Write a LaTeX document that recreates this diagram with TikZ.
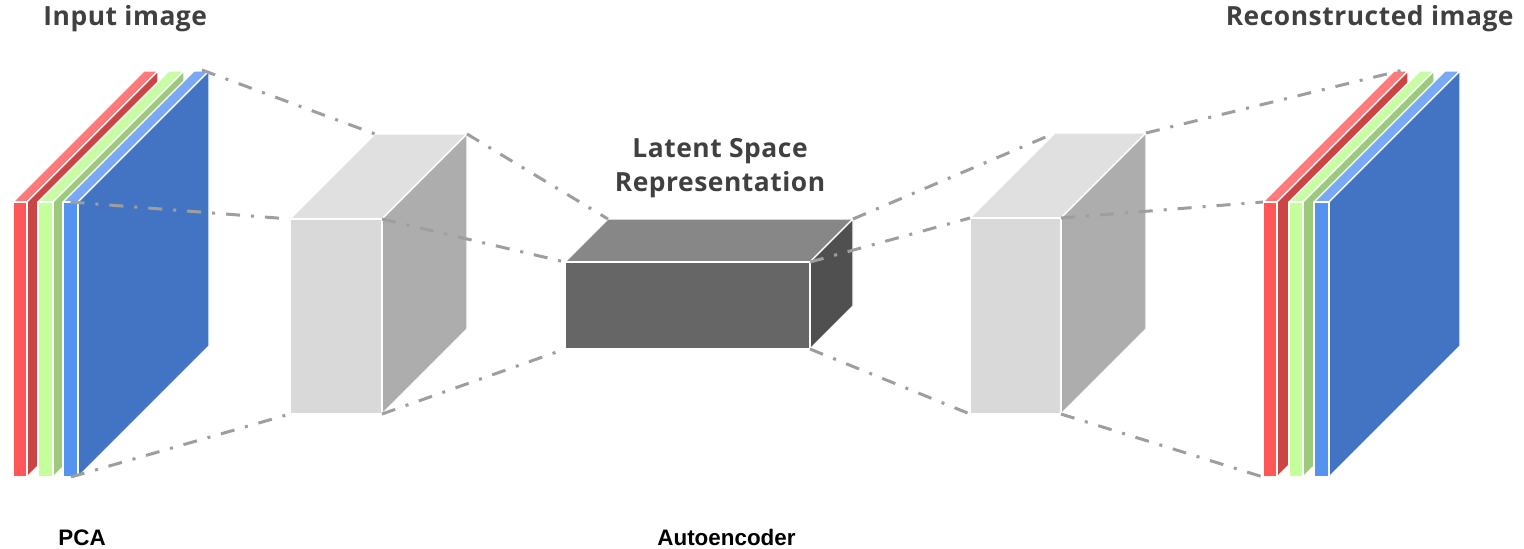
\documentclass[tikz,border=0pt]{standalone}
\usepackage{fontspec}
\newfontfamily\headfont{Open Sans}[LetterSpace=2.0]
\newfontfamily\labfont{Liberation Sans}
\usetikzlibrary{calc}

\definecolor{redfront}{HTML}{FF5757}
\definecolor{redtop}{HTML}{FF7B7B}
\definecolor{redside}{HTML}{CC4545}
\definecolor{grnfront}{HTML}{C5FF9C}
\definecolor{grntop}{HTML}{C9FCA6}
\definecolor{grnside}{HTML}{9CC97B}
\definecolor{blufront}{HTML}{5593F0}
\definecolor{blutop}{HTML}{79A9F5}
\definecolor{bluside}{HTML}{4374C3}
\definecolor{lightfront}{HTML}{D9D9D9}
\definecolor{lighttop}{HTML}{E0E0E0}
\definecolor{lightside}{HTML}{ADADAD}
\definecolor{darkfront}{HTML}{666666}
\definecolor{darktop}{HTML}{878787}
\definecolor{darkside}{HTML}{505050}
\definecolor{linkgray}{HTML}{9E9E9E}
\definecolor{headgray}{HTML}{404040}

\tikzset{
  faceedge/.style={draw=white, line width=0.6pt, line join=round},
  link/.style={draw=linkgray, line width=1.5pt,
    dash pattern=on 7pt off 5.5pt on 1.5pt off 5.5pt},
  heading/.style={font=\headfont\bfseries\fontsize{13.2}{16}\selectfont, text=headgray, inner sep=0pt},
  caption/.style={font=\labfont\bfseries\fontsize{11.2}{13}\selectfont, text=black, inner sep=0pt}
}

% cuboid: name, front x0, y0, x1, y1, depth, front/top/side colours
\newcommand{\cuboid}[9]{%
  \coordinate (#1-ftl) at (#2,#3);
  \coordinate (#1-ftr) at (#4,#3);
  \coordinate (#1-fbl) at (#2,#5);
  \coordinate (#1-fbr) at (#4,#5);
  \coordinate (#1-btl) at ($(#1-ftl)+(#6,-#6)$);
  \coordinate (#1-btr) at ($(#1-ftr)+(#6,-#6)$);
  \coordinate (#1-bbr) at ($(#1-fbr)+(#6,-#6)$);
  \filldraw[faceedge, fill=#8] (#1-ftl) -- (#1-ftr) -- (#1-btr) -- (#1-btl) -- cycle;
  \filldraw[faceedge, fill=#9] (#1-ftr) -- (#1-fbr) -- (#1-bbr) -- (#1-btr) -- cycle;
  \filldraw[faceedge, fill=#7] (#1-ftl) rectangle (#1-fbr);
}

\begin{document}
\begin{tikzpicture}[x=0.5pt, y=-0.5pt]
\useasboundingbox (0,0) rectangle (1524,548);

% input image: three colour channels
\cuboid{inr}{13}{202}{27}{477}{131}{redfront}{redtop}{redside}
\cuboid{ing}{38}{202}{53}{477}{131}{grnfront}{grntop}{grnside}
\cuboid{inb}{63}{202}{78}{477}{131}{blufront}{blutop}{bluside}

% encoder layer
\cuboid{enc}{290}{219}{382}{414}{85}{lightfront}{lighttop}{lightside}

% latent code
\cuboid{lat}{565}{262}{810}{349}{43}{darkfront}{darktop}{darkside}

% decoder layer
\cuboid{dec}{970}{218}{1061}{414}{85}{lightfront}{lighttop}{lightside}

% reconstructed image
\cuboid{outr}{1263}{202}{1277}{477}{131}{redfront}{redtop}{redside}
\cuboid{outg}{1289}{202}{1303}{477}{131}{grnfront}{grntop}{grnside}
\cuboid{outb}{1314}{202}{1329}{477}{131}{blufront}{blutop}{bluside}

% attachment points on the channel stacks
\coordinate (in-ft) at (70.5,202);
\coordinate (in-fb) at (71,477);
\coordinate (in-bt) at (202,70);
\coordinate (out-bt) at (1403,70);

% projection lines
\draw[link] (in-bt) -- (enc-btl);
\draw[link] (in-ft) -- (enc-ftl);
\draw[link] (in-fb) -- (enc-fbl);

\draw[link] (enc-btr) -- (lat-btl);
\draw[link] (enc-ftr) -- (lat-ftl);
\draw[link] (enc-fbr) -- (lat-fbl);

\draw[link] (lat-btr) -- (dec-btl);
\draw[link] (lat-ftr) -- (dec-ftl);
\draw[link] (lat-fbr) -- (dec-fbl);

\draw[link] (dec-btr) -- (out-bt);
\draw[link] (dec-ftr) -- (outr-ftl);
\draw[link] (dec-fbr) -- (outr-fbl);

% labels
\node[heading, anchor=base west] (intitle) at (43,25) {Input image};
\node[heading, anchor=base east] (outtitle) at (1514,25) {Reconstructed image};
\node[heading, anchor=base] (lat1) at (720,157) {Latent Space};
\node[heading, anchor=base] (lat2) at (720,191) {Representation};
\node[caption, anchor=base west] (pca) at (58,545) {PCA};
\node[caption, anchor=base west] (ae) at (657,545) {Autoencoder};
\end{tikzpicture}
\end{document}
